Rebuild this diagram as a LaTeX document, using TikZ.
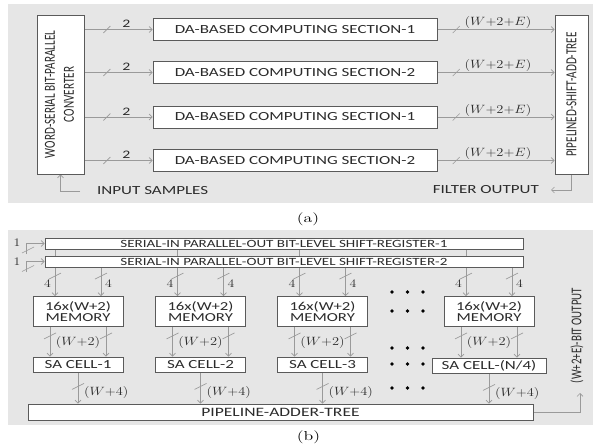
\documentclass[tikz,border=0pt]{standalone}
\usepackage{fontspec}
\usepackage{graphicx}
\newfontfamily\carl{Carlito}
\usetikzlibrary{arrows.meta}
\definecolor{bgc}{HTML}{E6E6E6}
\definecolor{boxc}{HTML}{5A5A5A}
\definecolor{arrc}{HTML}{9A9A9A}
\definecolor{txtc}{HTML}{2B2B2B}
\newcommand{\hs}[1]{\scalebox{1.37}[1]{#1}}
\newcommand{\ms}[1]{\scalebox{1.2}[1]{#1}}
\newcommand{\vs}[1]{\scalebox{1}[1.37]{#1}}
\pgfdeclarelayer{bg}
\pgfdeclarelayer{conn}
\pgfsetlayers{bg,conn,main}
\tikzset{
  box/.style={draw=boxc, fill=white, line width=0.9pt, inner sep=0pt, text=txtc},
  sf/.style={font=\carl\fontsize{12.4}{14}\selectfont, text=txtc},
  rsf/.style={font=\carl\fontsize{11.2}{13.9}\selectfont, text=txtc},
  arr/.style={draw=arrc, line width=0.6pt, -{Straight Barb[length=3pt,width=6pt]}},
  lab/.style={text=txtc, inner sep=0pt, font=\fontsize{11.5}{13}\selectfont},
  slashline/.style={draw=arrc, line width=0.6pt},
  vslash/.pic={\draw[slashline] (-6,3) -- (6,-3);},
  hslash/.pic={\draw[slashline] (-3.5,3.5) -- (3.5,-3.5);},
}
\begin{document}
\begin{tikzpicture}[x=1pt,y=-1pt]
\useasboundingbox (0,0) rectangle (599,446);
\begin{pgfonlayer}{bg}
  \fill[bgc] (8,4) rectangle (593,203);
  \fill[bgc] (8,230) rectangle (593,425);
\end{pgfonlayer}

% ---------------- panel (a)
\node[box, minimum width=47pt, minimum height=159pt, rsf] (conv) at (60.5,94.5)
  {\rotatebox{90}{\vs{\begin{tabular}{@{}c@{}}WORD-SERIAL BIT-PARALLEL\\CONVERTER\end{tabular}}}};
\node[box, minimum width=33pt, minimum height=159pt, rsf] (pst) at (571.5,94.5)
  {\rotatebox{90}{\vs{PIPELINED-SHIFT-ADD-TREE}}};
\node[box, sf, minimum width=284pt, minimum height=22pt] (da1) at (295,29.5) {\hs{DA-BASED COMPUTING SECTION-1}};
\node[box, sf, minimum width=284pt, minimum height=22pt] (da2) at (295,72.5) {\hs{DA-BASED COMPUTING SECTION-2}};
\node[box, sf, minimum width=284pt, minimum height=22pt] (da3) at (295,117) {\hs{DA-BASED COMPUTING SECTION-1}};
\node[box, sf, minimum width=284pt, minimum height=22pt] (da4) at (295,160.5) {\hs{DA-BASED COMPUTING SECTION-2}};
\node[sf, anchor=west, inner sep=0pt] (insamp) at (97,191) {\hs{INPUT SAMPLES}};
\node[sf, anchor=east, inner sep=0pt] (fout) at (539,190) {\hs{FILTER OUTPUT}};
\node[inner sep=0pt, font=\fontsize{13}{15}\selectfont] (capa) at (308,219) {\hs{(a)}};

% ---------------- panel (b)
\node[box, minimum width=478pt, minimum height=11pt, font=\carl\fontsize{11}{12}\selectfont] (sr1) at (284,243.5)
  {\hs{SERIAL-IN PARALLEL-OUT BIT-LEVEL SHIFT-REGISTER-1}};
\node[box, minimum width=478pt, minimum height=11pt, font=\carl\fontsize{11}{12}\selectfont] (sr2) at (284,261.5)
  {\hs{SERIAL-IN PARALLEL-OUT BIT-LEVEL SHIFT-REGISTER-2}};
\foreach \i/\x in {1/78,2/200.5,3/322.5,4/489}{
  \node[box, minimum width=90pt, minimum height=30pt, align=center, font=\carl\fontsize{12.2}{11}\selectfont]
    (mem\i) at (\x,311.5) {\hs{16x(W+2)}\\\hs{MEMORY}};
}
\node[box, sf, minimum width=90pt, minimum height=15pt] (sa1) at (78,364.5) {\hs{SA CELL-1}};
\node[box, sf, minimum width=90pt, minimum height=15pt] (sa2) at (200.5,364.5) {\hs{SA CELL-2}};
\node[box, sf, minimum width=90pt, minimum height=15pt] (sa3) at (322.5,364.5) {\hs{SA CELL-3}};
\node[box, sf, minimum width=114pt, minimum height=15pt] (sa4) at (489,365.5) {\hs{SA CELL-(N/4)}};
\node[box, minimum width=505pt, minimum height=16pt, font=\carl\fontsize{12.8}{14}\selectfont] (pipe) at (280.5,412)
  {\hs{PIPELINE-ADDER-TREE}};
\node[rsf, inner sep=0pt, font=\carl\fontsize{10.9}{13}\selectfont] (outlbl) at (577,335.5)
  {\rotatebox{90}{\vs{(W+2+E)-BIT OUTPUT}}};
\node[lab] (one1) at (17,243) {\ms{1}};
\node[lab] (one2) at (17,262) {\ms{1}};
\node[inner sep=0pt, font=\fontsize{13}{15}\selectfont] (capb) at (308.5,437) {\hs{(b)}};

\foreach \x in {392,407.5,423}{
  \foreach \y in {292,311,348,364,388}{
    \fill[black] (\x,\y) circle (1.9pt);
  }
}

\begin{pgfonlayer}{conn}
  % panel (a)
  \foreach \i in {1,2,3,4}{
    \draw[arr] (conv.east |- da\i.west) -- (da\i.west)
      node[pos=0.615, yshift=5.5pt, inner sep=0pt, sf, font=\carl\fontsize{11.5}{12}\selectfont] {\hs{2}}
      coordinate[pos=0.33] (ka\i);
    \pic at (ka\i) {hslash};
    \draw[arr] (da\i.east) -- (pst.west |- da\i.east)
      node[pos=0.517, yshift=6.5pt, lab] {\ms{$(W{+}2{+}E)$}}
      coordinate[pos=0.16] (kb\i);
    \pic at (kb\i) {hslash};
  }
  \draw[arr] ([xshift=-17pt]insamp.west) -| (conv.south);
  \draw[arr] (pst.south) |- ([xshift=12pt]fout.east);

  % panel (b)
  \coordinate (in1) at (26,254);
  \coordinate (in2) at (26,272);
  \draw[arr] (in1) |- (sr1.west);
  \draw[arr] (in2) |- (sr2.west);
  \pic at (28,250) {vslash};
  \pic at (28,268.5) {vslash};
  \foreach \i in {1,2,3,4}{
    \coordinate (ta\i) at ([xshift=-23pt]mem\i.north);
    \coordinate (tb\i) at ([xshift=23pt]mem\i.north);
    \draw[arr] (sr1.south -| ta\i) -- (ta\i);
    \draw[arr] (sr2.south -| tb\i) -- (tb\i);
    \pic at ([yshift=20pt]ta\i) {vslash};
    \pic at ([yshift=20pt]tb\i) {vslash};
    \node[lab] at ([xshift=-7.5pt,yshift=12pt]ta\i) {\ms{4}};
    \node[lab] at ([xshift=7.5pt,yshift=12pt]tb\i) {\ms{4}};
    \coordinate (ma\i) at ([xshift=-28pt]sa\i.north -| mem\i.south);
    \coordinate (mb\i) at ([xshift=28pt]sa\i.north -| mem\i.south);
    \draw[arr] (mem\i.south -| ma\i) -- (sa\i.north -| ma\i);
    \draw[arr] (mem\i.south -| mb\i) -- (sa\i.north -| mb\i);
    \pic at ([yshift=-9pt]mem\i.south -| ma\i) {vslash};
    \pic at ([yshift=-9pt]mem\i.south -| mb\i) {vslash};
    \node[lab] at ([yshift=-16pt]mem\i.south) {\ms{$(W{+}2)$}};
    \draw[arr] (sa\i.south) -- (pipe.north -| sa\i.south);
    \pic at ([yshift=-14pt]sa\i.south) {vslash};
    \node[lab, anchor=west] at ([xshift=6pt,yshift=-20pt]sa\i.south) {\ms{$(W{+}4)$}};
  }
  \coordinate (outtip) at (580,393);
  \draw[arr] (pipe.east) -| (outtip);
\end{pgfonlayer}
\end{tikzpicture}
\end{document}
